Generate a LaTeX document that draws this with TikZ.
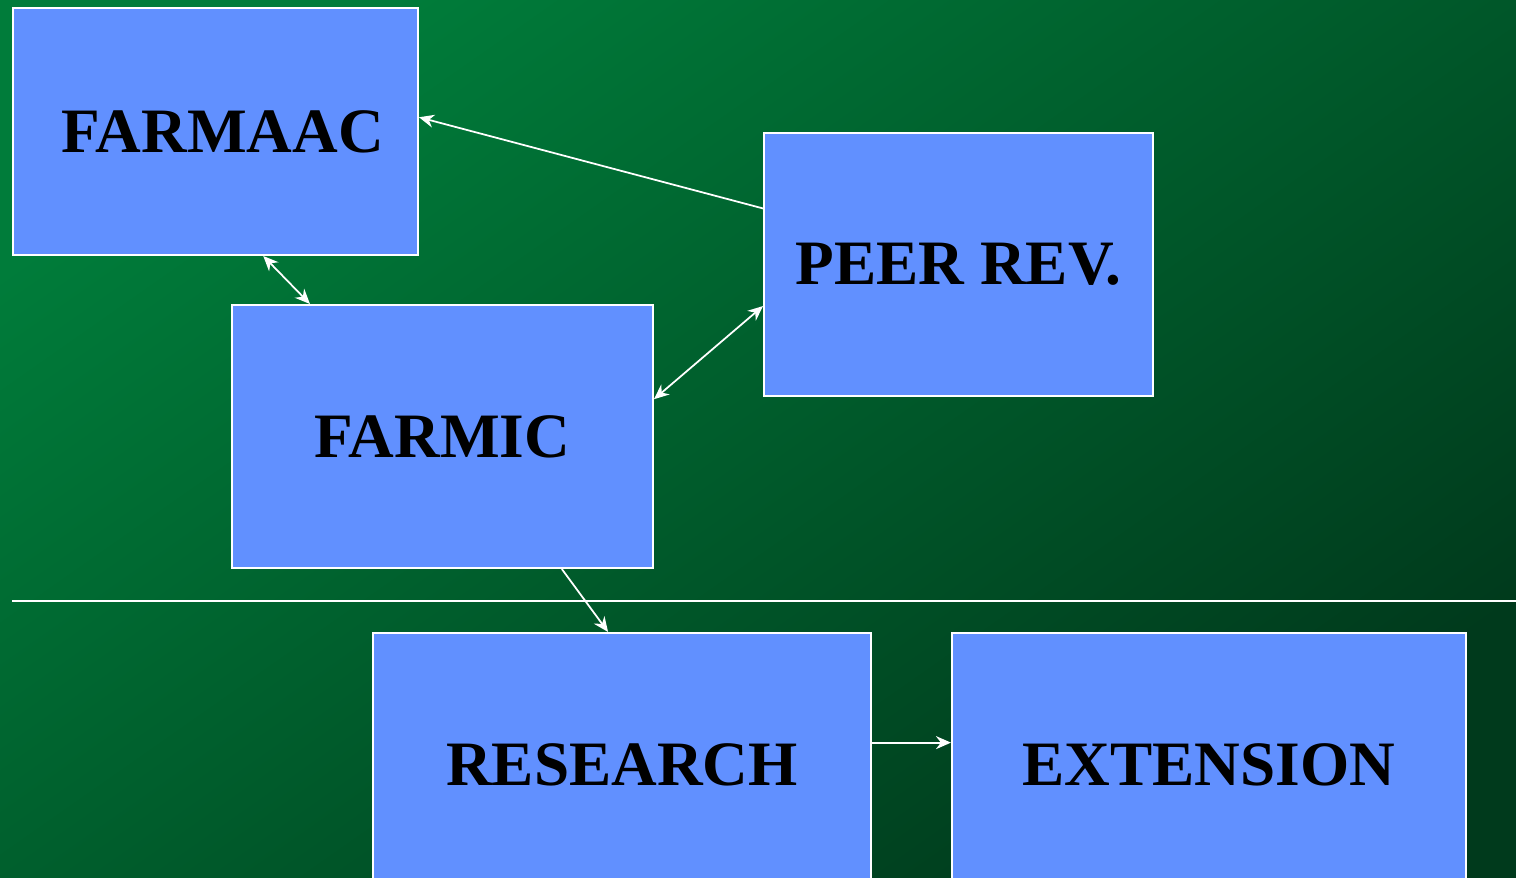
\documentclass[tikz,border=0pt]{standalone}
\usepackage{fontspec}
\setmainfont{Liberation Serif}
\usetikzlibrary{arrows.meta}

\definecolor{bglight}{RGB}{0,124,58}
\definecolor{bgdark}{RGB}{0,58,28}
\definecolor{boxblue}{RGB}{97,144,255}

\begin{document}
\begin{tikzpicture}[
 x=0.02cm, y=-0.02cm,
 box/.style={draw=white, line width=1.2pt, fill=boxblue, rectangle, minimum height=5.26cm,
  font=\fontsize{36}{40}\selectfont\bfseries, text=black, align=center},
 arrow/.style={-{Stealth[length=3mm, width=2.6mm]}, draw=white, line width=1pt},
 twoway/.style={{Stealth[length=3mm, width=2.6mm]}-{Stealth[length=3mm, width=2.6mm]}, draw=white, line width=1pt}
]

% background
\useasboundingbox (0,0) rectangle (1516,878);
\clip (0,0) rectangle (1516,878);
\shade[shading=axis, top color=bglight, bottom color=bgdark, shading angle=35] (0,0) rectangle (1516,878);

% committees
\node[box, minimum width=8.1cm, minimum height=4.94cm] (farmaac) at (215.5,131.5) {\hspace*{0.3cm}FARMAAC};
\node[box, minimum width=7.78cm] (peer) at (958.5,264.5) {PEER REV.};
\node[box, minimum width=8.42cm] (farmic) at (442.5,436.5) {FARMIC};

% divider
\draw[white, line width=0.9pt] (12,601) -- (1516,601);

% bottom row
\node[box, minimum width=9.96cm] (research) at (622,764.5) {RESEARCH};
\node[box, minimum width=10.28cm] (extension) at (1209,764.5) {EXTENSION};

% arrows
\draw[arrow] (peer.164.3) -- (farmaac.4.4);
\draw[twoway] (farmaac.-69) -- (farmic.135.6);
\draw[twoway] (farmic.10.6) -- (peer.-168.3);
\draw[arrow] (farmic.-48.2) -- (research.96.8);
\draw[arrow] (research.5.4) -- (research.5.4 -| extension.west);

\end{tikzpicture}
\end{document}
